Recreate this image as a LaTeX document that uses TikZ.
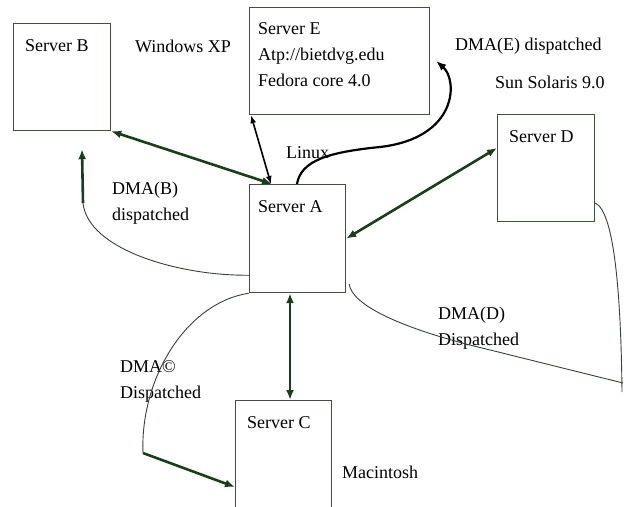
\documentclass[tikz,border=0pt]{standalone}
\usepackage{fontspec}
\setmainfont{Liberation Serif}
\usetikzlibrary{arrows.meta,calc}
\definecolor{linkgreen}{RGB}{24,64,24}
\definecolor{boxline}{RGB}{62,82,62}
\definecolor{thinline}{RGB}{55,65,55}

\tikzset{
    server/.style={draw=boxline, line width=1.2pt, rectangle, inner sep=0pt,
        anchor=north west, minimum width=97pt, minimum height=107pt},
    boxtitle/.style={anchor=north west, inner sep=0pt, align=left},
    txt/.style={anchor=west, inner sep=0pt, align=left},
    link/.style={draw=linkgreen, line width=2.6pt,
        {Latex[length=10pt,width=8pt]}-{Latex[length=10pt,width=8pt]}},
    dispatch/.style={draw=linkgreen, line width=2.6pt, -{Latex[length=10pt,width=8pt]}},
    wire/.style={draw=thinline, line width=0.9pt},
}

\begin{document}
\begin{tikzpicture}[x=1pt, y=-1pt, font=\fontsize{18}{26}\selectfont]
        \useasboundingbox (0,0) rectangle (626,506);
        \clip (0,0) rectangle (626,506);

        % servers
        \node[server](B) at (13,23) {};
        \node[server, minimum width=180pt](E) at (249,7) {};
        \node[server](D) at (497,114) {};
        \node[server, minimum width=96pt, minimum height=108pt](A) at (249,184) {};
        \node[server, minimum width=96pt, minimum height=130pt](C) at (235,400) {};

        \node[boxtitle](Bname) at ($(B.north west)+(12,16)$) {Server B};
        \node[boxtitle](Ename) at ($(E.north west)+(9,15)$) {Server E\\Atp://bietdvg.edu\\Fedora core 4.0};
        \node[boxtitle](Dname) at ($(D.north west)+(12,16)$) {Server D};
        \node[boxtitle](Aname) at ($(A.north west)+(9,16)$) {Server A};
        \node[boxtitle](Cname) at ($(C.north west)+(12,16)$) {Server C};

        % operating systems and dispatch notes
        \node[txt](winxp) at (135,46) {Windows XP};
        \node[txt](linux) at (286,153) {Linux};
        \node[txt](solaris) at (495,82) {Sun Solaris 9.0};
        \node[txt](mac) at (342,472) {Macintosh};
        \node[txt](dmaE) at (455,46) {DMA(E) dispatched};
        \node[txt](dmaB) at (112,203) {DMA(B)\\dispatched};
        \node[txt](dmaC) at (120,381) {DMA©\\Dispatched};
        \node[txt](dmaD) at (438,328) {DMA(D)\\Dispatched};

        \coordinate (bturn) at (83,203);
        \coordinate (cturn) at (143,453);
        \coordinate (dturn) at (623,383);

        % links
        \draw[link] ($(A.north west)+(23,0)$) -- (B.south east);
        \draw[link] (A.east) -- ($(D.north west)+(0,34)$);
        \draw[link] ($(A.south west)+(41,0)$) -- ($(C.north west)+(55,0)$);
        \draw[line width=1.6pt, {Latex[length=8pt,width=6pt]}-{Latex[length=8pt,width=6pt]}]
            ($(A.north west)+(22,0)$) -- ($(E.south west)+(2,0)$);
        \draw[line width=2.2pt, -{Latex[length=10pt,width=8pt]}]
            ($(A.north west)+(48,0)$) .. controls (301,160) and (330,152) .. (380,147)
            .. controls (458,138) and (458,80) .. ($(E.east)+(6,0)$);

        % dispatch paths
        \draw[wire] ($(A.south west)+(0,-18)$) .. controls (180,276) and (88,250) .. (bturn);
        \draw[dispatch] (bturn) -- ($(B.south west)+(69,18)$);
        \draw[wire] (A.south west) .. controls (185,303) and (140,380) .. (cturn);
        \draw[dispatch] (cturn) -- ($(C.north west)+(0,87)$);
        \draw[wire] ($(A.south east)+(3,-9)$) .. controls (352,305) and (400,327) .. (470,345) -- (dturn);
        \draw[wire] ($(D.north east)+(0,89)$) .. controls (615,212) and (621,300) .. (622,392);
\end{tikzpicture}
\end{document}
